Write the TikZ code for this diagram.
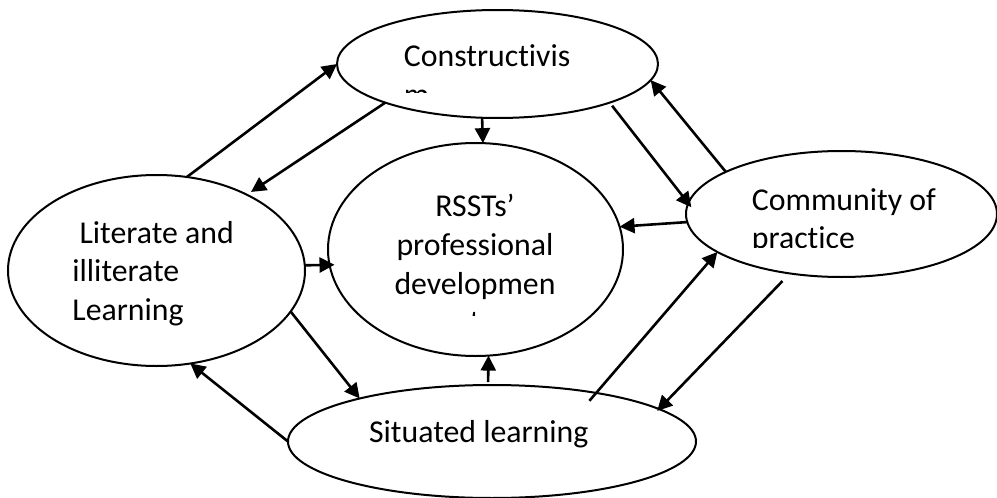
\documentclass[tikz,border=0pt]{standalone}
\usepackage{fontspec}
\setmainfont{Carlito}[RawFeature={-liga;-clig}]
\usetikzlibrary{shapes.geometric,arrows.meta}
\newcommand\dfont{\fontsize{15.9pt}{19.4pt}\selectfont}
\begin{document}
\begin{tikzpicture}[x=0.5pt,y=-0.5pt,
  oval/.style={draw, ellipse, line width=1pt, inner sep=0pt, outer sep=0pt},
  arr/.style={-{Triangle[length=7.5pt,width=7.5pt]}, line width=1.3pt},
  txt/.style={anchor=base west, inner sep=0pt, font=\dfont},
  ctxt/.style={anchor=base, inner sep=0pt, font=\dfont}]
\useasboundingbox (0,0) rectangle (997,498);
% ellipses
\node[oval, minimum width=160.5pt, minimum height=54pt] (cons) at (497.5,64) {};
\node[oval, minimum width=148.5pt, minimum height=95.5pt] (lit) at (156.5,270.5) {};
\node[oval, minimum width=147.5pt, minimum height=106.5pt] (rsst) at (475.5,249.5) {};
\node[oval, minimum width=155.5pt, minimum height=63pt] (comm) at (841.5,214) {};
\node[oval, minimum width=204pt, minimum height=56.5pt] (sit) at (492,441.5) {};
% texts
\begin{scope}
\clip (340,20) rectangle (650,92);
\node[txt] (consA) at (403.5,67) {Constructivis};
\node[txt] (consB) at (403.5,105.8) {m};
\end{scope}
\node[txt] (litA) at (79.2,243) {Literate and};
\node[txt] (litB) at (72,281.8) {illiterate};
\node[txt] (litC) at (72,320.6) {Learning};
\begin{scope}
\clip (340,160) rectangle (610,315.5);
\node[ctxt] (rA) at (475,216.5) {RSSTs’};
\node[ctxt] (rB) at (475,255.3) {professional};
\node[ctxt] (rC) at (475,294.1) {developmen};
\node[ctxt] (rD) at (475,332.9) {t};
\end{scope}
\begin{scope}
\clip (700,160) rectangle (990,247);
\node[txt] (cA) at (751.5,210) {Community of};
\node[txt] (cB) at (751.5,248.8) {practice};
\end{scope}
\node[txt] (sA) at (368.7,442) {Situated learning};
% connectors
\draw[arr] (lit.72) -- (cons.180);
\draw[arr, shorten >=2.5pt] (cons.199) -- (lit.40);
\draw[arr] (cons.254) -- (rsst.86);
\draw[arr, shorten <=2pt, shorten >=-2.5pt] (cons.341) -- (comm.176);
\draw[arr] (comm.160) -- (cons.354);
\draw[arr] (comm.183) -- (rsst.9);
\draw[arr, shorten <=-5.2pt] (sit.25) -- (comm.197);
\draw[arr, shorten <=5.3pt, shorten >=-1.3pt] (comm.229) -- (sit.11);
\draw[arr] (sit.180) -- (lit.290);
\draw[arr] (lit.343) -- (sit.162);
\draw[arr, shorten >=-2.5pt] (lit.2) -- (rsst.186);
\draw[arr, shorten <=1.5pt] (sit.94) -- (rsst.277);
\end{tikzpicture}
\end{document}
